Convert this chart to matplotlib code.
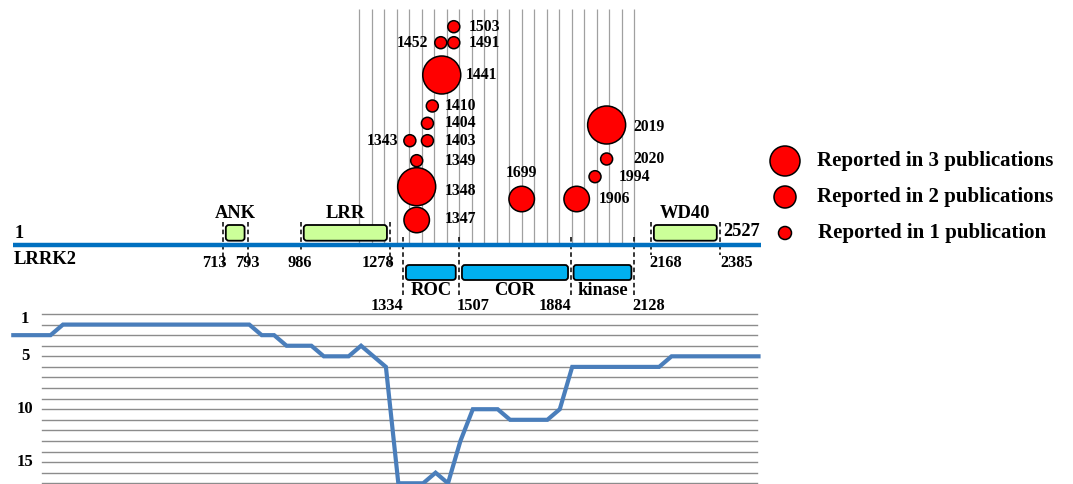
import matplotlib
matplotlib.use("Agg")
import matplotlib.pyplot as plt
import matplotlib.patches as mpatches
import matplotlib.transforms as mtransforms
import numpy as np

plt.rcParams["font.family"] = ["Liberation Serif", "DejaVu Serif"]
plt.rcParams["font.weight"] = "bold"

# ---- data -------------------------------------------------------------
PROTEIN_LEN = 2527
domain_names = ["ANK", "LRR", "WD40"]
domain_start = [713, 986, 2168]
domain_end = [793, 1278, 2385]
core_names = ["ROC", "COR", "kinase"]
core_bounds = [1334, 1507, 1884, 2128]

# mutations: residue, publications, drawn position
mut_res = [1347, 1348, 1349, 1343, 1403, 1404, 1410, 1441,
           1452, 1491, 1503, 1699, 1906, 1994, 2019, 2020]
mut_pubs = [2, 3, 1, 1, 1, 1, 1, 3, 1, 1, 1, 2, 2, 1, 3, 1]
mut_pos = [1377, 1377, 1377, 1356, 1410, 1410, 1425, 1454,
           1451, 1491, 1491, 1718, 1906, 1977, 2022, 2022]

# sliding window marks across the region of interest
window_pos = [1177, 1218, 1259, 1308, 1353, 1392, 1430, 1469, 1507, 1550,
              1591, 1634, 1675, 1718, 1759, 1802, 1844, 1887, 1934, 1984,
              2032, 2080, 2128]

# rank per window (61 windows)
rank = [3, 3, 3, 3, 2, 2, 2, 2, 2, 2, 2, 2, 2, 2, 2, 2, 2, 2, 2, 2,
        3, 3, 4, 4, 4, 5, 5, 5, 4, 5, 6, 17, 17, 17, 16, 17, 13, 10, 10, 10,
        11, 11, 11, 11, 10, 6, 6, 6, 6, 6, 6, 6, 6, 5, 5, 5, 5, 5, 5, 5, 5]
rank_ticks = [1, 5, 10, 15]

legend_labels = ["Reported in 3 publications",
                 "Reported in 2 publications",
                 "Reported in 1 publication"]

# ---- layout -------------------------------------------------------------
W, H = 1073, 484
fig = plt.figure(figsize=(W / 100, H / 100), dpi=100)

# pixel transform (top-left origin) for layout text
PX = mtransforms.Affine2D().scale(1 / W, -1 / H).translate(0, 1) + fig.transFigure

# hand-drawn residue ruler: residue -> pixel calibration
cal_res = np.array([-200, 1, 713, 793, 986, 1278, 1334, 1507, 1884,
                    2128, 2168, 2385, 2527, 4000], dtype=float)
cal_px = np.array([-45.8, 13.3, 222.7, 247.7, 300.7, 390, 402.7, 459, 571,
                   634, 650.7, 720, 761, 1186.3])


def fwd(r):
    return np.interp(r, cal_res, cal_px)


def inv(p):
    return np.interp(p, cal_px, cal_res)


ax = fig.add_axes([0, 0, 1, 1])
ax.set_xscale("function", functions=(fwd, inv))
ax.set_xlim(inv(0.0), inv(float(W)))
ax.set_ylim(H, 0)
ax.axis("off")

RED = "#FF0000"
GREEN = "#CCFF99"
CYAN = "#00B0F0"
LINE_BLUE = "#0070C0"

bubble_y = [220, 186.7, 160.7, 140.7, 140.7, 123.3, 106, 75,
            42.7, 42.7, 26.7, 199, 199, 176.7, 125, 159]
diam = {1: 12, 2: 25.5, 3: 38}

# window marks
ax.vlines(window_pos, 9, 245, color="#a0a0a0", lw=0.9, zorder=1)

# protein backbone
ax.plot([1, PROTEIN_LEN], [245, 245], color=LINE_BLUE, lw=3.2,
        solid_capstyle="butt", zorder=3)

inset = 10
dash = dict(color="black", lw=1.1, ls=(0, (3, 2)), zorder=2)


def box(x0, x1, y0, y1, fc):
    p = mpatches.FancyBboxPatch((x0 + inset, y0), x1 - x0 - 2 * inset, y1 - y0,
                                boxstyle="round,pad=0,rounding_size=10",
                                mutation_aspect=0.3, fc=fc, ec="black",
                                lw=1.3, zorder=4)
    ax.add_patch(p)


for name, s, e in zip(domain_names, domain_start, domain_end):
    box(s, e, 225, 240.7, GREEN)
    bottom = 255 if name == "WD40" else 268
    ax.vlines(s, 221.7, 250 if name == "LRR" else bottom, **dash)
    ax.vlines(e, 221.7, bottom, **dash)
    ax.text((s + e) / 2, 213, name, ha="center", va="center",
            fontsize=13.3, zorder=5)

for name, s, e in zip(core_names, core_bounds[:-1], core_bounds[1:]):
    box(s, e, 265, 280, CYAN)
    ax.text((s + e) / 2, 290.5, name, ha="center", va="center",
            fontsize=13.3, zorder=5)
ax.vlines(core_bounds, 236.7, 295, **dash)

# coordinate labels (px positions)
coord_labels = [("713", 214.5, 263, "center"), ("793", 247.5, 263, "center"),
                ("986", 300, 263, "center"), ("1278", 377.7, 263, "center"),
                ("2168", 649, 263, "left"), ("2385", 720, 263, "left"),
                ("1334", 386.7, 305.5, "center"), ("1507", 457, 305.5, "left"),
                ("1884", 571.5, 305.5, "right"), ("2128", 632, 305.5, "left")]
for t, x, y, ha in coord_labels:
    ax.text(x, y, t, transform=PX, ha=ha, va="center", fontsize=11.8, zorder=5)

ax.text(15, 233, "1", transform=PX, ha="left", va="center", fontsize=13.3)
ax.text(14, 260, "LRRK2", transform=PX, ha="left", va="center", fontsize=13.3)
ax.text(723, 231.5, str(PROTEIN_LEN), transform=PX, ha="left", va="center",
        fontsize=13.3)

# mutation bubbles
sizes = [(diam[p] * 0.72) ** 2 for p in mut_pubs]
ax.scatter(mut_pos, bubble_y, s=sizes, c=RED, edgecolors="black",
           linewidths=1.1, zorder=6)

mut_label_xy = {1347: (444.3, 219.3, "left"), 1348: (444.3, 191, "left"),
                1349: (444.3, 160.7, "left"), 1343: (398.3, 140.7, "right"),
                1403: (444.3, 140.7, "left"), 1404: (444.3, 123.3, "left"),
                1410: (444.3, 106, "left"), 1441: (466, 75, "left"),
                1452: (428.3, 42.7, "right"), 1491: (468.3, 42.7, "left"),
                1503: (468.3, 26.7, "left"), 1699: (521.7, 173.3, "center"),
                1906: (598.3, 199, "left"), 1994: (618.3, 176.7, "left"),
                2019: (633.3, 127, "left"), 2020: (633.3, 159, "left")}
for r in mut_res:
    x, y, ha = mut_label_xy[r]
    ax.text(x, y, str(r), transform=PX, ha=ha, va="center", fontsize=11.3,
            zorder=7)

# legend
leg_d = [30, 22, 13]
leg_y = [161, 197, 233]
ax.scatter([785] * 3, leg_y, s=[(d * 0.72) ** 2 for d in leg_d], c=RED,
           edgecolors="black", linewidths=1.1, transform=PX, zorder=6)
for lab, y, x in zip(legend_labels, leg_y, [817, 817, 818.5]):
    ax.text(x, y, lab, transform=PX, ha="left", va="center", fontsize=15)

# ---- rank chart -----------------------------------------------------------
RY0, RSTEP = 314, 10.58      # px of rank 1, px per rank
XS0, XSTEP = 13.3, 12.42     # px of window 0, px per window
axb = fig.add_axes([0, 0, 1, (H - 300) / H])
axb.set_xlim(-XS0 / XSTEP, (W - XS0) / XSTEP)
axb.set_ylim(1 + (H - RY0) / RSTEP, 1 - (RY0 - 300) / RSTEP)
axb.axis("off")

for v in range(1, 18):
    axb.axhline(v, xmin=41.7 / W, xmax=757 / W, color="#8c8c8c", lw=1.0,
                zorder=1)
axb.plot(np.arange(len(rank)), rank, color="#4A7EBB", lw=3.0,
         solid_joinstyle="miter", zorder=3)

tr = mtransforms.blended_transform_factory(PX, axb.transData)
for v in rank_ticks:
    # the top label sits just inside the plot area, as in the original
    t = mtransforms.offset_copy(tr, fig=fig, y=-5 if v == 1 else 0,
                                units="dots")
    axb.text(25, v, str(v), transform=t, ha="center", va="center",
             fontsize=12)

fig.savefig("out.png", dpi=100)
